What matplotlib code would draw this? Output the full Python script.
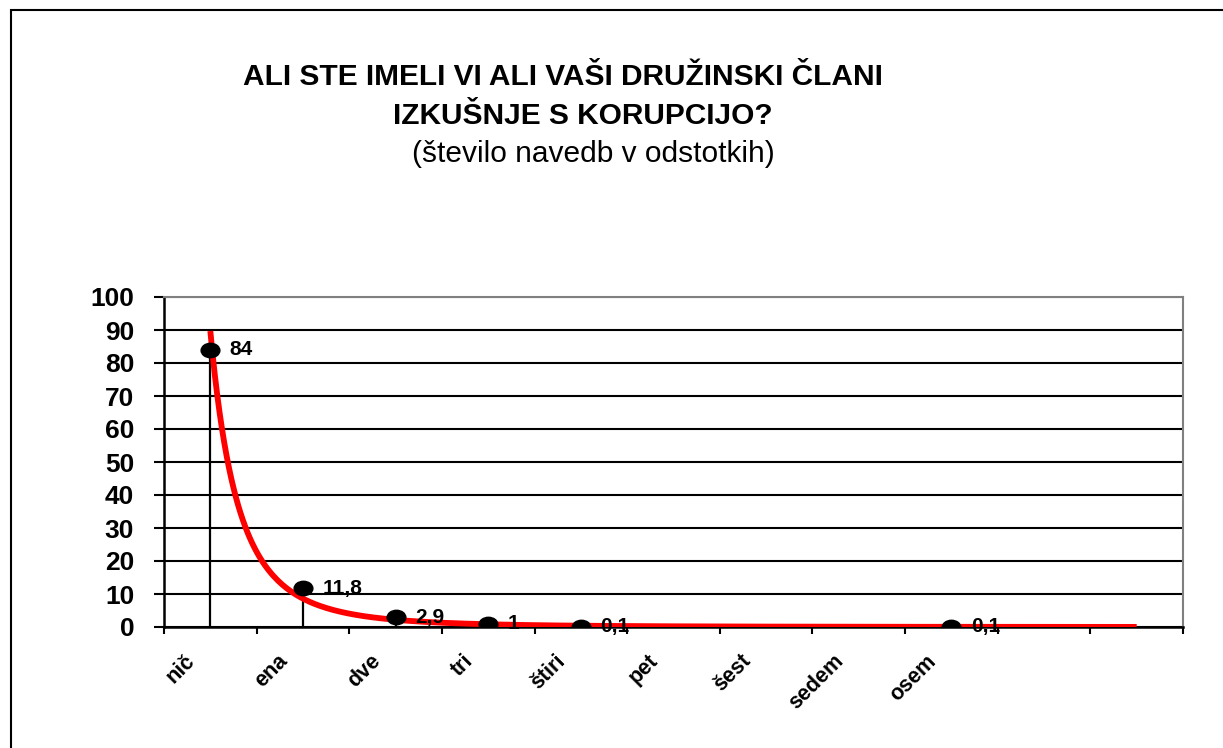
import numpy as np
import matplotlib
matplotlib.use('Agg')
import matplotlib.pyplot as plt
from matplotlib.path import Path
from matplotlib.patches import Rectangle

plt.rcParams['font.family'] = ['Liberation Sans', 'DejaVu Sans']

# data
categories = ['nič', 'ena', 'dve', 'tri', 'štiri', 'pet', 'šest', 'sedem', 'osem', '', '']
point_idx = [0, 1, 2, 3, 4, 8]
point_vals = [84, 11.8, 2.9, 1, 0.1, 0.1]
point_lbls = ['84', '11,8', '2,9', '1', '0,1', '0,1']
yticks = list(range(0, 101, 10))

title1 = 'ALI STE IMELI VI ALI VAŠI DRUŽINSKI ČLANI'
title2 = 'IZKUŠNJE S KORUPCIJO?'
subtitle = '(število navedb v odstotkih)'

W, H = 1223, 748
fig = plt.figure(figsize=(W / 100, H / 100), dpi=100)
ax = fig.add_axes([164 / W, 1 - 627 / H, (1183 - 164) / W, (627 - 297) / H])

# outer chart border (right/bottom fall outside the image)
fig.patches.append(Rectangle((11 / W, -0.1), 2, 1.1 - 10 / H, transform=fig.transFigure,
                             fill=False, edgecolor='black', lw=1.5))

# ellipse marker
circ = Path.unit_circle()
ell = Path(circ.vertices * np.array([1.3, 1.0]), circ.codes)

x = np.array(point_idx)
y = np.array(point_vals)

# power trendline fitted to the points (x counted from 1, like Excel)
b, lna = np.polyfit(np.log(x + 1), np.log(y), 1)
xt = np.linspace(1, len(categories), 400)
ax.plot(xt - 1, np.exp(lna) * xt ** b, color='#ff0000', lw=4.2, zorder=4,
        solid_capstyle='butt')

ax.vlines(x, 0, y, color='black', lw=1.6, zorder=3)
ax.plot(x, y, ls='none', marker=ell, ms=13.5, color='black', zorder=5)

for xi, yi, lbl in zip(x, y, point_lbls):
    ax.annotate(lbl, (xi, yi), xytext=(14, 0), textcoords='offset points',
                ha='left', va='center', fontsize=15, fontweight='bold', zorder=6)

ax.set_xlim(-0.5, len(categories) - 0.5)
ax.set_ylim(0, 100)
ax.set_yticks(yticks)
ax.set_yticklabels([str(t) for t in yticks], fontsize=19, fontweight='bold')
ax.set_xticks(np.arange(-0.5, len(categories), 1.0))
ax.set_xticklabels([])
ax.tick_params(axis='y', direction='out', length=7.5, width=1.5, pad=14)
ax.tick_params(axis='x', direction='out', length=5, width=1.5)

for i, c in enumerate(categories):
    ax.annotate(c, (i, 0), xycoords=('data', 'axes fraction'), xytext=(-8, -17),
                textcoords='offset points', rotation=45, ha='right', va='top',
                fontsize=15.5, fontweight='bold')

ax.grid(axis='y', color='black', lw=1.5)
ax.set_axisbelow(True)
ax.get_ygridlines()[-1].set_color('#808080')
for s in ['top', 'right']:
    ax.spines[s].set_color('#808080')
    ax.spines[s].set_linewidth(1.5)
for s in ['left', 'bottom']:
    ax.spines[s].set_linewidth(1.8)

fig.text(563 / W, 1 - 77 / H, title1, ha='center', va='center', fontsize=21.5, fontweight='bold')
fig.text(583 / W, 1 - 116 / H, title2, ha='center', va='center', fontsize=21.5, fontweight='bold')
fig.text(593 / W, 1 - 154 / H, subtitle, ha='center', va='center', fontsize=21.5)

fig.savefig('out.png', dpi=100)
